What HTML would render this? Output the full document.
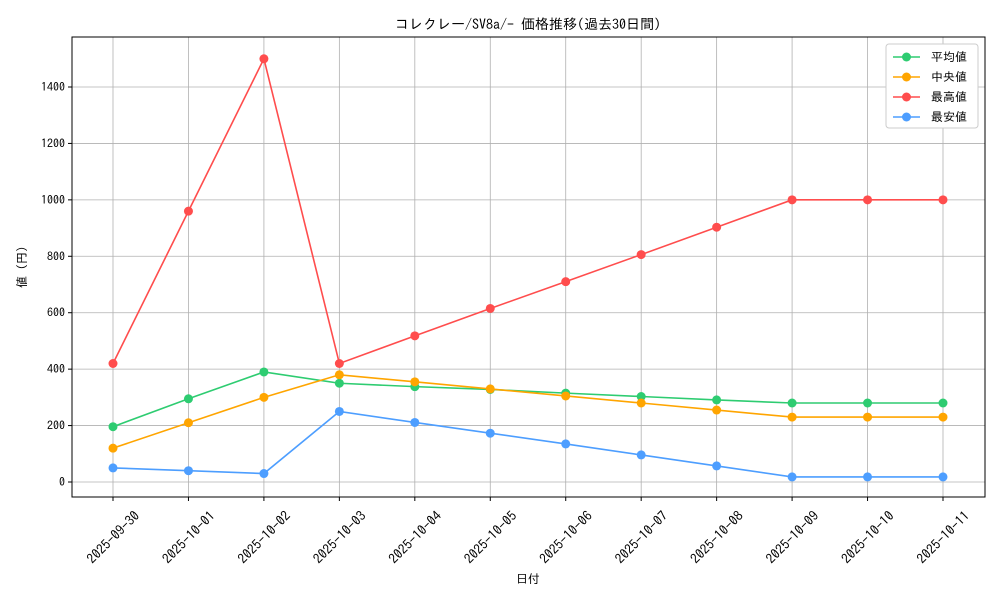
<!DOCTYPE html>
<html><head><meta charset="utf-8"><style>
body{margin:0;background:#fff}
svg text{font-family:"IPAGothic","Liberation Mono","Noto Sans CJK JP",monospace;fill:#000}
</style></head><body>
<svg id="c" width="1000" height="600" xmlns="http://www.w3.org/2000/svg"></svg>
<script>
const categories=["2025-09-30","2025-10-01","2025-10-02","2025-10-03","2025-10-04","2025-10-05","2025-10-06","2025-10-07","2025-10-08","2025-10-09","2025-10-10","2025-10-11"];
const avgValues=[196,295,390,350,338,328,315,303,291,280,280,280];
const medianValues=[120,210,300,380,355,330,305,280,255,230,230,230];
const maxValues=[420,960,1500,420,518,615,710,806,903,1000,1000,1000];
const minValues=[50,40,30,250,211,173,135,96,57,18,18,18];
const yTicks=[0,200,400,600,800,1000,1200,1400];
const seriesNames=["平均値","中央値","最高値","最安値"];
const seriesColors=["#2ecc71","#ffa500","#ff4d4d","#4d9eff"];
const NS="http://www.w3.org/2000/svg";
const svg=document.getElementById('c');
const L=72,R=985,T=37,B=497;
const x=i=>113+i*(943-113)/11;
const y=v=>482-v*(482-87)/1400;
function mk(t,a,p){const e=document.createElementNS(NS,t);for(const k in a)e.setAttribute(k,a[k]);(p||svg).appendChild(e);return e;}
const grid=mk('g',{});


categories.forEach((c,i)=>{
 mk('line',{x1:x(i),x2:x(i),y1:T,y2:B,stroke:'#b0b0b0','stroke-width':0.8},grid);
 mk('line',{x1:x(i),x2:x(i),y1:B,y2:B+4,stroke:'#000'});
 const cy=537;
 const t=mk('text',{x:x(i),y:cy+5,'font-size':13.5,'text-anchor':'middle',transform:`rotate(-45 ${x(i)} ${cy})`});
 t.textContent=c;
 
 
});
yTicks.forEach(v=>{
 mk('line',{x1:L,x2:R,y1:y(v),y2:y(v),stroke:'#b0b0b0','stroke-width':0.8},grid);
 mk('line',{x1:L-4,x2:L,y1:y(v),y2:y(v),stroke:'#000'});
 const t=mk('text',{x:L-7,y:y(v)+4,'font-size':12,'text-anchor':'end'});
 t.textContent=v;
 
 
});
const all=[avgValues,medianValues,maxValues,minValues];
all.forEach((d,s)=>{
 const g=mk('g',{});
 
 
 mk('polyline',{points:d.map((v,i)=>x(i)+','+y(v)).join(' '),fill:'none',stroke:seriesColors[s],'stroke-width':1.6},g);
 d.forEach((v,i)=>{const p=mk('circle',{cx:x(i),cy:y(v),r:4.5,fill:seriesColors[s]},g);
 
 });
});
const fr=mk('rect',{x:L,y:T,width:R-L,height:B-T,fill:'none',stroke:'#000','stroke-width':1});


const title=mk('text',{x:528,y:29,'font-size':14,'text-anchor':'middle'});
title.textContent='コレクレー/SV8a/- 価格推移(過去30日間)';


const xt=mk('text',{x:528,y:583,'font-size':12,'text-anchor':'middle'});
xt.textContent='日付';


const yt=mk('text',{x:26,y:267,'font-size':12,'text-anchor':'middle',transform:'rotate(-90 26 267)'});
yt.textContent='値 (円)';


const lg=mk('g',{});


mk('rect',{x:886,y:44,width:92,height:84,rx:3,fill:'#fff',stroke:'#ccc'},lg);
seriesNames.forEach((n,s)=>{
 const yy=57+s*20;
 const e=mk('g',{},lg);
 
 
 mk('line',{x1:893,x2:920,y1:yy,y2:yy,stroke:seriesColors[s],'stroke-width':1.6},e);
 mk('circle',{cx:906.5,cy:yy,r:4.5,fill:seriesColors[s]},e);
 const t=mk('text',{x:931,y:yy+4,'font-size':12},e);t.textContent=n;
});
</script>
</body></html>
